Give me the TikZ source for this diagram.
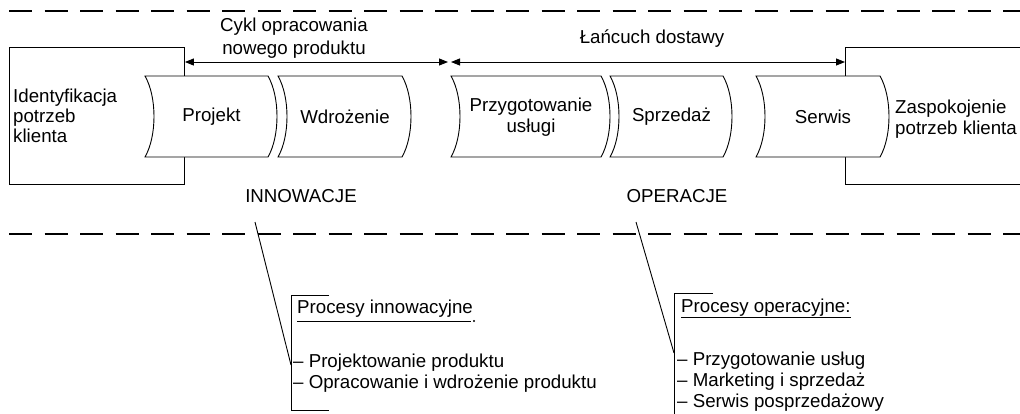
\documentclass[tikz,border=0pt]{standalone}
\usepackage{fontspec}
\setmainfont{Liberation Sans}
\usetikzlibrary{arrows.meta,calc}

% chevron: name, left x, right x, label
\newcommand\chevbox[4]{%
  \draw[chevline] (#2,76) .. controls ({#2+12},97) and ({#2+12},136) .. (#2,157)
    -- (#3,157) .. controls ({#3+12},136) and ({#3+12},97) .. (#3,76) -- cycle;
  \node[lbl] (#1) at ({(#2+#3)/2+5},117) {#4};}

\begin{document}
\begin{tikzpicture}[x=1pt,y=-1pt,
  thin line/.style={line width=0.9pt},
  dashline/.style={line width=1.3pt, dash pattern=on 23pt off 12.5pt},
  chevline/.style={line width=0.9pt, fill=white, line join=miter},
  lbl/.style={font=\fontsize{18.7}{21}\selectfont, inner sep=0pt, align=center},
  txt/.style={font=\fontsize{18.7}{21}\selectfont, inner sep=0pt},
  dimarrow/.style={line width=0.9pt, {Triangle[length=9pt,width=7pt]}-{Triangle[length=9pt,width=7pt]}},
  boxstyle/.style={draw, line width=0.9pt, inner sep=0pt, anchor=north west, minimum height=137pt}
]
\useasboundingbox (0,0) rectangle (1020,413);
\clip (0,0) rectangle (1020,413);

% band limits
\draw[dashline] (9,11) -- (1020,11);
\draw[dashline] (9,234) -- (1020,234);

% outer boxes
\node[boxstyle, minimum width=175pt] (box1) at (9,47) {};
\node[boxstyle, minimum width=185pt] (box2) at (845,47) {};
\node[txt, anchor=west, align=left, font=\fontsize{18.7}{20}\selectfont] (need) at (13,115.5)
  {Identyfikacja\\potrzeb\\klienta};
\node[txt, anchor=west, align=left] (sat) at (895,119)
  {Zaspokojenie\\potrzeb klienta};

% process chain
\chevbox{proj}{145}{268}{Projekt}
\chevbox{wdr}{278}{402}{Wdrożenie}
\chevbox{prz}{451}{601}{Przygotowanie\\usługi}
\chevbox{spr}{610}{723}{Sprzedaż}
\chevbox{ser}{756}{880}{Serwis}

% spans
\coordinate (m1) at (448,62);
\coordinate (m2) at (451,62);
\draw[dimarrow] (box1.east |- m1) -- (m1);
\draw[dimarrow] (m2) -- (box2.west |- m2);
\node[lbl, font=\fontsize{18.7}{23}\selectfont] (cykl) at (294,38.5) {Cykl opracowania\\nowego produktu};
\node[lbl, anchor=base] (lanc) at (652,43) {Łańcuch dostawy};

\node[lbl, anchor=base] (inn) at (301,202.5) {INNOWACJE};
\node[lbl, anchor=base] (ope) at (677,202.5) {OPERACJE};

% innovation callout
\coordinate (innTail) at (255,222);
\coordinate (innBr) at (291,365);
\draw[thin line] (innTail) -- (innBr);
\draw[thin line] (329,295) -- (291,295) -- (291,410) -- (329,410);
\node[txt, anchor=base west] (h1) at (297,313) {Procesy innowacyjne};
\draw[thin line] ($(h1.base west)+(0,8)$) -- ($(h1.base east)+(-2,8)$);
\fill ($(h1.base east)+(1,8)$) circle (1.1pt);
\node[txt, anchor=base west] (i1) at (293,367) {– Projektowanie produktu};
\node[txt, anchor=base west] (i2) at (293,388) {– Opracowanie i wdrożenie produktu};

% operations callout
\coordinate (opeTail) at (636,222);
\coordinate (opeBr) at (674,353);
\draw[thin line] (opeTail) -- (opeBr);
\draw[thin line] (713,293) -- (674,293) -- (674,420);
\node[txt, anchor=base west] (h2) at (681,312) {Procesy operacyjne:};
\draw[thin line] ($(h2.base west)+(0,5)$) -- ($(h2.base east)+(0,5)$);
\node[txt, anchor=base west] (o1) at (677,365) {– Przygotowanie usług};
\node[txt, anchor=base west] (o2) at (677,386) {– Marketing i sprzedaż};
\node[txt, anchor=base west] (o3) at (677,407) {– Serwis posprzedażowy};
\end{tikzpicture}
\end{document}
